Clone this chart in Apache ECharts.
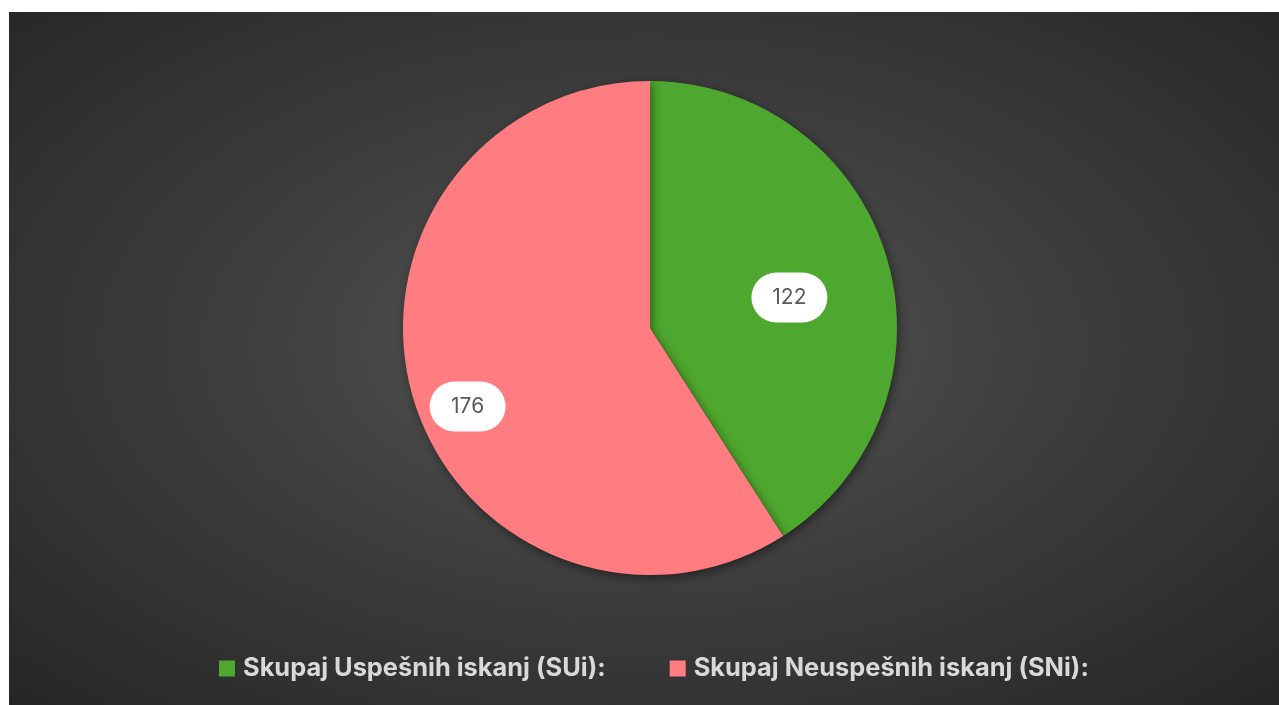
<!DOCTYPE html>
<html>
<head>
<meta charset="utf-8">
<script src="https://cdn.jsdelivr.net/npm/echarts@6/dist/echarts.min.js"></script>
<style>
  html, body { margin: 0; padding: 0; background: #ffffff; }
  #main {
    position: absolute;
    left: 9px;
    top: 12px;
    width: 1270px;
    height: 693px;
    background: radial-gradient(ellipse at 50% 48%, #575757 0%, #3e3e3e 45%, #262626 100%);
  }
</style>
</head>
<body>
<div id="main"></div>
<script>
// categories and values
var categories = ["Skupaj Uspešnih iskanj (SUi):", "Skupaj Neuspešnih iskanj (SNi):"];
var values = [122, 176];
var colors = ["#4ea72e", "#ff7c80"];
var labelOffsets = [[18, 5], [-61, 43]];

var chart = echarts.init(document.getElementById("main"), null, { renderer: "canvas" });

var pieData = categories.map(function (name, i) {
  return {
    name: name,
    value: values[i],
    itemStyle: { color: colors[i] },
    label: { offset: labelOffsets[i] }
  };
});

chart.setOption({
  backgroundColor: "transparent",
  animation: false,
  legend: {
    bottom: 19,
    left: 205,
    itemWidth: 16,
    itemHeight: 16,
    itemGap: 64,
    icon: "rect",
    textStyle: {
      color: "#d9d9d9",
      fontSize: 25.4,
      fontWeight: "bold",
      fontFamily: "Inter",
      padding: [0, 0, 0, 3]
    },
    data: categories
  },
  series: [
    {
      type: "pie",
      center: [641, 316],
      radius: 247,
      startAngle: 90,
      clockwise: true,
      data: pieData,
      itemStyle: {
        shadowBlur: 10,
        shadowColor: "rgba(0,0,0,0.45)",
        shadowOffsetX: 2,
        shadowOffsetY: 3
      },
      label: {
        show: true,
        position: "inside",
        formatter: "{c}",
        color: "#595959",
        fontSize: 21,
        fontFamily: "Inter",
        backgroundColor: "#ffffff",
        width: 76,
        height: 50,
        lineHeight: 50,
        align: "center",
        verticalAlign: "middle",
        borderRadius: 25
      },
      labelLine: { show: false },
      emphasis: { disabled: true }
    }
  ]
});
</script>
</body>
</html>
